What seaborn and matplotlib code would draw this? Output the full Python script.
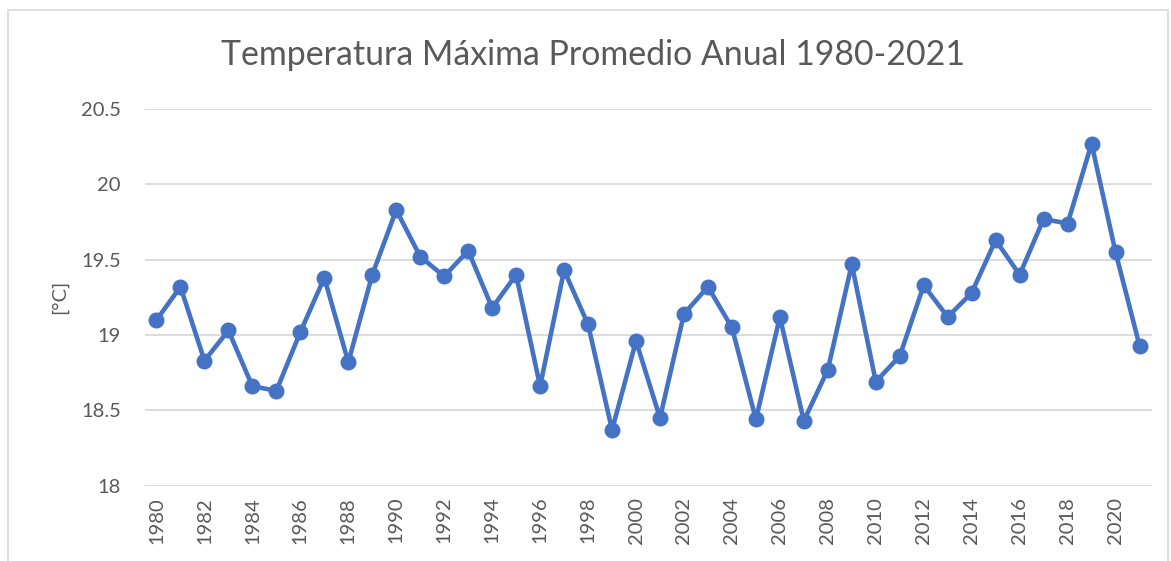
import numpy as np
import pandas as pd
import matplotlib
matplotlib.use("Agg")
import matplotlib.pyplot as plt
from matplotlib.patches import Rectangle
import seaborn as sns

# Data
years = list(range(1980, 2022))
tmax = [19.10, 19.32, 18.83, 19.03, 18.66, 18.63, 19.02, 19.38, 18.82, 19.40,
        19.83, 19.52, 19.39, 19.56, 19.18, 19.40, 18.66, 19.43, 19.07, 18.37,
        18.96, 18.45, 19.14, 19.32, 19.05, 18.44, 19.12, 18.43, 18.77, 19.47,
        18.69, 18.86, 19.33, 19.12, 19.28, 19.63, 19.40, 19.77, 19.74, 20.27,
        19.55, 18.93]
y_ticks = [18, 18.5, 19, 19.5, 20, 20.5]
y_tick_labels = ["18", "18.5", "19", "19.5", "20", "20.5"]
x_ticks = list(range(1980, 2021, 2))

df = pd.DataFrame({"Año": years, "Tmax": tmax})

sns.set_theme(style="white")
plt.rcParams["font.family"] = ["Lato", "DejaVu Sans"]

fig = plt.figure(figsize=(11.71, 5.61), dpi=100)
ax = fig.add_axes([144.5 / 1171, 1 - 485.7 / 561, 1007 / 1171, 376.7 / 561])

sns.lineplot(data=df, x="Año", y="Tmax", ax=ax, color="#4472C4",
             linewidth=3.3, marker="o", markersize=11.5,
             markeredgewidth=0, markerfacecolor="#4472C4")

ax.set_xlim(1979.5, 2021.5)
ax.set_ylim(18, 20.5)
ax.set_yticks(y_ticks)
ax.set_yticklabels(y_tick_labels)
ax.set_xticks(x_ticks)
ax.set_xticklabels([str(y) for y in x_ticks], rotation=90)
ax.tick_params(axis="both", length=0, labelsize=14.5, colors="#595959")
ax.tick_params(axis="x", pad=8)
ax.tick_params(axis="y", pad=17)
ax.yaxis.grid(True, color="#d9d9d9", linewidth=1.3)
ax.set_axisbelow(True)
for s in ax.spines.values():
    s.set_visible(False)

ax.set_xlabel("")
ax.set_ylabel("[°C]", fontsize=14.5, color="#595959")
ax.yaxis.set_label_coords(-0.076, 0.5)

fig.text(593 / 1171, 1 - 55 / 561, "Temperatura Máxima Promedio Anual 1980-2021",
         ha="center", va="center", fontsize=24.4, color="#595959")

# light chart border
fig.patches.append(Rectangle((8 / 1171, -0.05), 1160 / 1171, 1.05 - 10 / 561,
                             transform=fig.transFigure, fill=False,
                             edgecolor="#d9d9d9", linewidth=1.2))

fig.savefig("out.png", dpi=100)
